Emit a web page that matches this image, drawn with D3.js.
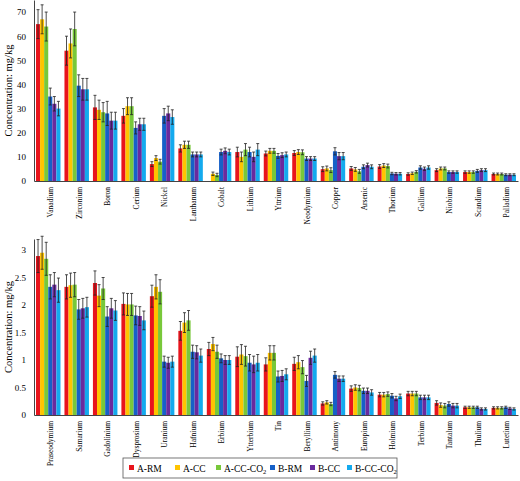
<!DOCTYPE html>
<html><head><meta charset="utf-8">
<script src="https://cdn.jsdelivr.net/npm/d3@7"></script>
<style>body{margin:0;background:#fff}svg{font-family:"Liberation Serif","Times New Roman",serif}</style>
</head><body><div id="chart"></div>
<script>
// series names and colours
const series = ["A-RM", "A-CC", "A-CC-CO2", "B-RM", "B-CC", "B-CC-CO2"];
const colors = ["#e8141c", "#ffc400", "#78c83a", "#1660c8", "#6a2a9e", "#14aaee"];

// upper panel
const topCats = ["Vanadium","Zirconium","Boron","Cerium","Nickel","Lanthanum","Cobalt","Lithium","Yttrium","Neodymium","Copper","Arsenic","Thorium","Gallium","Niobium","Scandium","Palladium"];
const topVals = [
  [65,67,64,35,32,30],[54,57,63,39.5,38,38],[30.5,29.5,28.5,28,25,25],[27,31,31,22,23.5,23.5],
  [7,9.5,8,27,28,26.5],[13.5,15,15,11,11,11],[0,3,2.5,12,12.5,12],[12,10,13,12,10,13],
  [11.4,12.5,12.5,10.4,10.7,11],[11.6,12,11.9,9.3,9.3,9.3],[4.9,5.2,4.5,12.3,10.3,10.3],
  [5.2,4.8,4,5.9,6.6,5.9],[6,6.4,6.2,3.1,3,3],[2.9,3.2,3.8,5.6,5.1,5.6],[4.5,5.2,5.2,3.7,3.7,3.7],
  [3.7,3.7,3.7,4.2,4.5,4.5],[2.9,2.9,2.9,2.6,2.6,2.6]];
const topErr = [
  [6,6,6,3.5,3,3],[6,6,7,4.5,4.5,4.5],[5,4,4,5,3.5,3.5],[3,3.5,3.5,2.5,2.5,2.5],
  [1,1,1,3,3,3],[1.5,1.5,1.5,1,1,1],[0,0.7,0.7,1.2,1.2,1.2],[2,2,2.5,2,2,2.5],
  [1,1,1,1,1,1],[1,1,1,0.8,0.8,0.8],[1,1,1,1.5,1.5,1.5],[0.8,0.8,0.8,0.8,0.8,0.8],
  [0.8,0.8,0.8,0.5,0.5,0.5],[0.5,0.5,0.5,0.7,0.7,0.7],[0.6,0.6,0.6,0.5,0.5,0.5],
  [0.5,0.5,0.5,0.6,0.6,0.6],[0.4,0.4,0.4,0.4,0.4,0.4]];
const topTicks = [0,10,20,30,40,50,60,70];

// lower panel
const botCats = ["Praseodymium","Samarium","Gadolinium","Dysprosium","Uranium","Hafnium","Erbium","Ytterbium","Tin","Beryllium","Antimony","Europium","Holmium","Terbium","Tantalum","Thulium","Lutetium"];
const botVals = [
  [2.89,2.95,2.84,2.33,2.37,2.27],[2.33,2.36,2.37,1.92,1.94,1.96],[2.4,2.17,2.3,1.79,1.94,1.9],
  [2.02,2.01,2.01,1.81,1.8,1.72],[2.16,2.33,2.24,0.97,0.95,0.97],[1.53,1.68,1.72,1.15,1.14,1.08],
  [1.2,1.29,1.15,1.03,1.0,1.0],[1.06,1.1,1.07,0.95,0.92,0.95],[0.92,1.13,1.13,0.70,0.71,0.74],
  [0.93,0.96,0.87,0.62,1.04,1.08],[0.21,0.23,0.2,0.73,0.66,0.66],[0.48,0.5,0.49,0.44,0.44,0.41],
  [0.37,0.37,0.38,0.35,0.3,0.34],[0.39,0.39,0.39,0.32,0.32,0.32],[0.22,0.18,0.17,0.2,0.17,0.17],
  [0.14,0.14,0.14,0.14,0.11,0.11],[0.13,0.13,0.13,0.14,0.12,0.11]];
const botErr = [
  [0.3,0.3,0.3,0.22,0.22,0.22],[0.22,0.22,0.22,0.18,0.18,0.18],[0.22,0.2,0.2,0.18,0.18,0.18],
  [0.2,0.2,0.2,0.17,0.17,0.17],[0.2,0.22,0.22,0.1,0.1,0.1],[0.17,0.18,0.18,0.12,0.12,0.12],
  [0.12,0.12,0.12,0.08,0.08,0.08],[0.18,0.18,0.18,0.15,0.15,0.15],[0.12,0.13,0.13,0.1,0.1,0.1],
  [0.12,0.12,0.12,0.1,0.12,0.12],[0.03,0.03,0.03,0.06,0.05,0.05],[0.05,0.05,0.05,0.05,0.05,0.05],
  [0.04,0.04,0.04,0.04,0.04,0.04],[0.04,0.04,0.04,0.04,0.04,0.04],[0.04,0.04,0.04,0.04,0.04,0.04],
  [0.02,0.02,0.02,0.02,0.02,0.02],[0.02,0.02,0.02,0.02,0.02,0.02]];
const botTicks = [0,0.5,1,1.5,2,2.5,3];

const svg = d3.select("#chart").append("svg").attr("width", 520).attr("height", 481);

function panel(cats, vals, errs, ticks, yMax, yTop, yBottom, fmt) {
  const x = d3.scaleBand().domain(cats).range([34, 518]).paddingInner(0.14).paddingOuter(0.07);
  const xs = d3.scaleBand().domain(series).range([0, x.bandwidth()]);
  const y = d3.scaleLinear().domain([0, yMax]).range([yBottom, yTop]);
  const g = svg.append("g");

  const yAx = g.append("g").attr("transform", "translate(34,0)")
    .call(d3.axisLeft(y).tickValues(ticks).tickSize(0).tickPadding(8).tickFormat(fmt));
  yAx.select(".domain").attr("stroke", "#444");
  yAx.selectAll("text").attr("font-size", 9).attr("font-family", "Liberation Serif");

  const xAx = g.append("g").attr("transform", `translate(0,${yBottom})`)
    .call(d3.axisBottom(x).tickSize(0).tickSizeOuter(0));
  xAx.select(".domain").attr("stroke", "#444");
  xAx.selectAll("text").attr("font-size", 7.5).attr("font-family", "Liberation Serif")
    .attr("transform", "rotate(-90)").attr("text-anchor", "end").attr("dx", "-6").attr("dy", "0.3em");

  const grp = g.selectAll(".grp").data(cats).enter().append("g")
    .attr("transform", d => `translate(${x(d)},0)`);
  grp.each(function (c, i) {
    const gg = d3.select(this);
    series.forEach((s, j) => {
      const v = vals[i][j], e = errs[i][j];
      if (v <= 0) return;
      const bx = xs(s), bw = xs.bandwidth();
      gg.append("rect").attr("x", bx).attr("width", bw).attr("y", y(v)).attr("height", y(0) - y(v)).attr("fill", colors[j]);
      const cx = bx + bw / 2;
      gg.append("path").attr("d", `M${cx},${y(v - e)}V${y(v + e)}M${cx - 1.5},${y(v + e)}h3M${cx - 1.5},${y(v - e)}h3`)
        .attr("stroke", "#222").attr("stroke-width", 0.8).attr("fill", "none");
    });
  });

  g.append("text").attr("transform", `translate(12,${(yTop + yBottom) / 2}) rotate(-90)`)
    .attr("text-anchor", "middle").attr("font-size", 10.5).text("Concentration: mg/kg");
}

panel(topCats, topVals, topErr, topTicks, 75, 0, 181, d3.format("d"));
panel(botCats, botVals, botErr, botTicks, 3.2, 239, 415, d => d);

// legend
const lg = svg.append("g").attr("transform", "translate(123,458)");
lg.append("rect").attr("width", 274).attr("height", 20).attr("fill", "#fff").attr("stroke", "#555").attr("stroke-width", 0.8);
const lx = [6, 52, 93, 147, 187, 224];
series.forEach((s, j) => {
  const it = lg.append("g").attr("transform", `translate(${lx[j]},0)`);
  it.append("rect").attr("x", 0).attr("y", 7).attr("width", 5).attr("height", 5).attr("fill", colors[j]);
  const t = it.append("text").attr("x", 8).attr("y", 13.5).attr("font-size", 9.5);
  if (s.endsWith("CO2")) {
    t.text(s.slice(0, -1));
    t.append("tspan").attr("font-size", 6.5).attr("dy", 2).text("2");
  } else t.text(s);
});
</script></body></html>
